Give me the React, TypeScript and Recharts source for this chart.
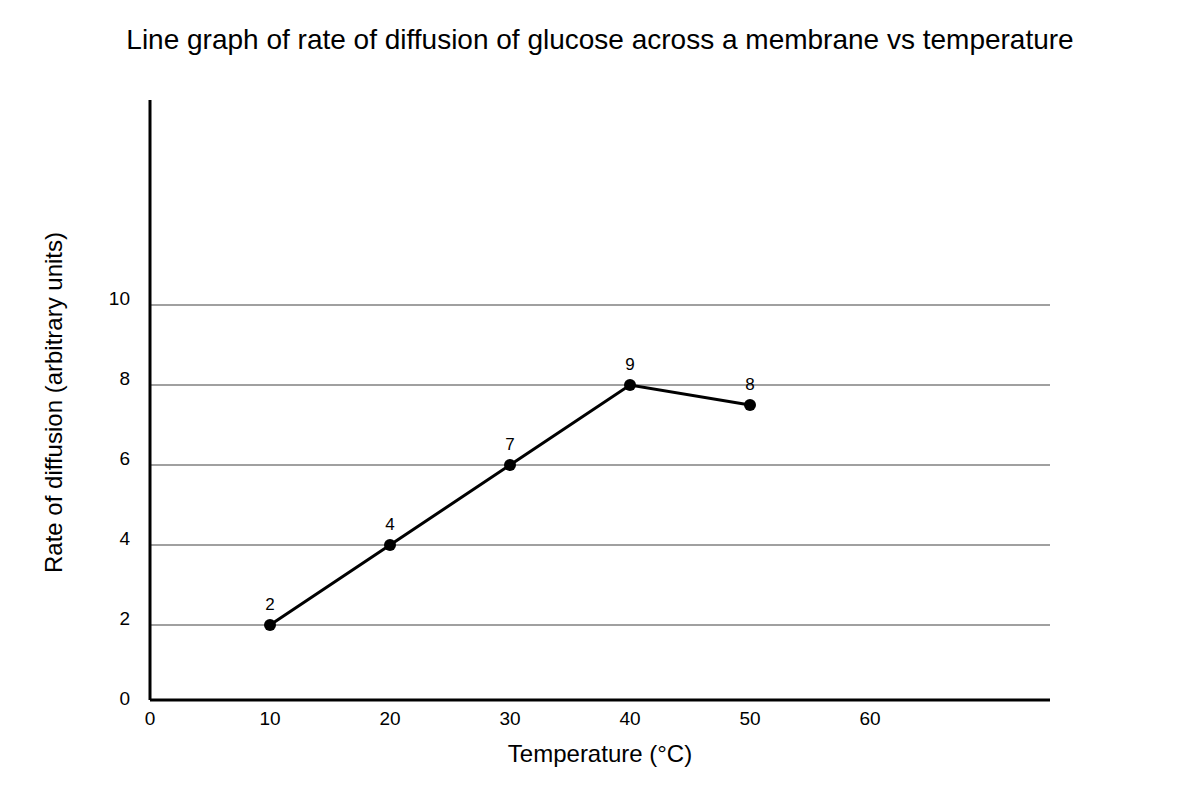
import { Label, LabelList, Line, LineChart, ReferenceLine, XAxis, YAxis } from "recharts"

const temperatures = [10, 20, 30, 40, 50]
const rates = [2, 4, 6, 8, 7.5]
const pointLabels = ["2", "4", "7", "9", "8"]
const xTicks = [0, 10, 20, 30, 40, 50, 60]
const yTicks = [0, 2, 4, 6, 8, 10]
const gridValues = [2, 4, 6, 8, 10]

const X_MAX = 75
const Y_MAX = 15.125
// the drawn x axis sits a little above the 0 value in the original
const AXIS_BASE = 0.125

const data = temperatures.map((t, i) => ({ temp: t, rate: rates[i], label: pointLabels[i] }))

const font = "'Liberation Sans', Arial, sans-serif"

function YTick(props: any) {
  const { x, y, payload } = props
  return (
    <text x={x} y={y - 7} dy="0.355em" textAnchor="end" fontSize={19} fill="#000">
      {payload.value}
    </text>
  )
}

function XTick(props: any) {
  const { x, y, payload } = props
  return (
    <text x={x} y={y} dy="0.71em" textAnchor="middle" fontSize={19} fill="#000">
      {payload.value}
    </text>
  )
}

export default function App() {
  return (
    <div style={{ position: "absolute", left: 0, top: 0, width: 1200, height: 800, background: "#fff", fontFamily: font }}>
      <div
        style={{
          position: "absolute",
          top: 26,
          left: 0,
          width: 1200,
          textAlign: "center",
          fontSize: 28,
          lineHeight: "28px",
          color: "#000",
        }}
      >
        Line graph of rate of diffusion of glucose across a membrane vs temperature
      </div>
      <LineChart width={1200} height={800} data={data} margin={{ top: 100, right: 150, bottom: 25, left: 40 }}>
        <XAxis
          dataKey="temp"
          type="number"
          domain={[0, X_MAX]}
          ticks={xTicks}
          axisLine={false}
          tickLine={false}
          tickSize={0}
          tickMargin={7}
          height={70}
          tick={<XTick />}
        >
          <Label value="Temperature (°C)" position="insideBottom" offset={13} style={{ fontSize: 24, fill: "#000" }} />
        </XAxis>
        <YAxis
          type="number"
          domain={[0, Y_MAX]}
          ticks={yTicks}
          axisLine={false}
          tickLine={false}
          tickSize={0}
          tickMargin={20}
          width={110}
          tick={<YTick />}
        >
          <Label
            value="Rate of diffusion (arbitrary units)"
            position="insideLeft"
            angle={-90}
            offset={13}
            style={{ fontSize: 24, fill: "#000", textAnchor: "middle" }}
          />
        </YAxis>
        {gridValues.map((v) => (
          <ReferenceLine key={v} y={v} stroke="#808080" strokeWidth={1.5} />
        ))}
        <ReferenceLine y={AXIS_BASE} stroke="#000" strokeWidth={3} />
        <ReferenceLine
          segment={[
            { x: 0, y: AXIS_BASE },
            { x: 0, y: Y_MAX },
          ]}
          stroke="#000"
          strokeWidth={3}
        />
        <Line
          type="linear"
          dataKey="rate"
          stroke="#000"
          strokeWidth={3}
          dot={{ r: 6, fill: "#000", stroke: "#000", strokeWidth: 0 }}
          activeDot={false}
          isAnimationActive={false}
        >
          <LabelList dataKey="label" position="top" offset={15} fontSize={17} fill="#000" />
        </Line>
      </LineChart>
    </div>
  )
}
